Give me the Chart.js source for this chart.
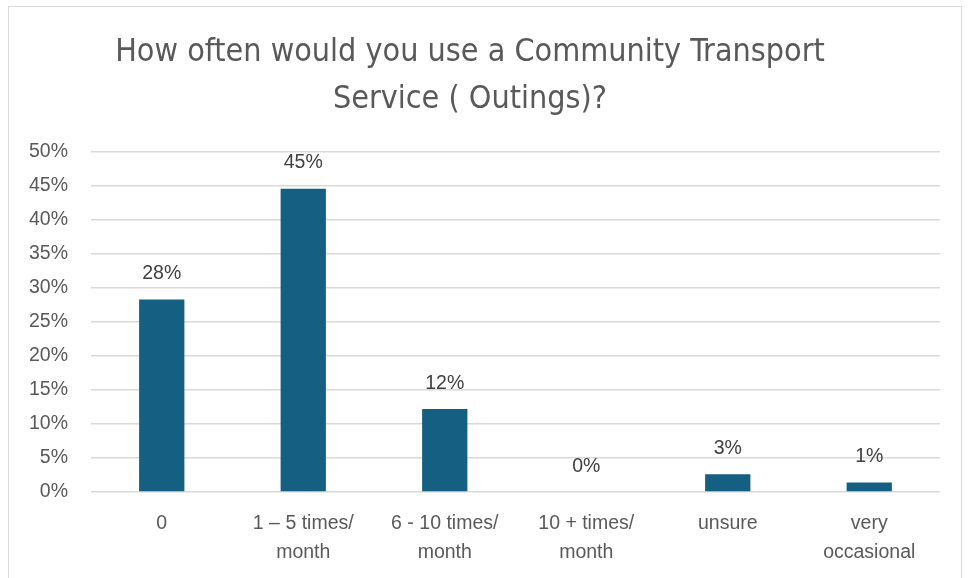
<!DOCTYPE html>
<html>
<head>
<meta charset="utf-8">
<script src="https://cdn.jsdelivr.net/npm/chart.js@4"></script>
<style>
    body { margin: 0; background: #ffffff; }
    #frame {
        position: absolute;
        left: 8px;
        top: 6px;
        width: 954px;
        height: 580px;
        border: 1.5px solid #d9d9d9;
        box-sizing: border-box;
    }
    #wrap { position: absolute; left: 0; top: 0; width: 973px; height: 578px; }
</style>
</head>
<body>
<div id="frame"></div>
<div id="wrap"><canvas id="freqChart" width="973" height="578"></canvas></div>
<script>
const categories = [
    '0',
    ['1 \u2013 5 times/', 'month'],
    ['6 - 10 times/', 'month'],
    ['10 + times/', 'month'],
    'unsure',
    ['very', 'occasional'],
];
const percentValues = [28.3, 44.6, 12.2, 0, 2.6, 1.4];
const valueLabels = ['28%', '45%', '12%', '0%', '3%', '1%'];
const yTicks = [0, 5, 10, 15, 20, 25, 30, 35, 40, 45, 50];

const bodyFont = "'Liberation Sans', Arial, sans-serif";
const titleFont = "'Liberation Sans Narrow', 'DejaVu Sans Condensed', sans-serif";

// value labels above each bar
const barLabels = {
    id: 'barLabels',
    afterDatasetsDraw(chart) {
        const ctx = chart.ctx;
        const meta = chart.getDatasetMeta(0);
        ctx.save();
        ctx.font = '19.5px ' + bodyFont;
        ctx.fillStyle = '#404040';
        ctx.textAlign = 'center';
        ctx.textBaseline = 'bottom';
        meta.data.forEach((bar, i) => {
            ctx.fillText(valueLabels[i], bar.x, bar.y - 16);
        });
        ctx.restore();
    },
};

new Chart(document.getElementById('freqChart'), {
    type: 'bar',
    data: {
        labels: categories,
        datasets: [
            {
                data: percentValues,
                backgroundColor: '#156082',
                borderWidth: 0,
                categoryPercentage: 1,
                barPercentage: 0.32,
            },
        ],
    },
    options: {
        responsive: false,
        animation: false,
        layout: { padding: { left: 0, right: 33, top: 0, bottom: 0 } },
        plugins: {
            legend: { display: false },
            tooltip: { enabled: false },
            title: {
                display: true,
                text: ['How often would you use a Community Transport', 'Service ( Outings)?'],
                color: '#595959',
                font: { family: titleFont, size: 32, weight: 'normal', lineHeight: 1.47 },
                padding: { top: 29, bottom: 29 },
            },
        },
        scales: {
            x: {
                grid: { display: false },
                border: { display: false },
                ticks: {
                    color: '#595959',
                    font: { family: bodyFont, size: 19.5, lineHeight: 1.5 },
                    padding: 9,
                    maxRotation: 0,
                    autoSkip: false,
                },
                afterFit(scale) { scale.height = 86; },
            },
            y: {
                min: 0,
                max: 50,
                afterBuildTicks(scale) {
                    scale.ticks = yTicks.map((v) => ({ value: v }));
                },
                grid: { color: '#d9d9d9', lineWidth: 1.5, drawTicks: false },
                border: { display: false },
                ticks: {
                    color: '#595959',
                    font: { family: bodyFont, size: 19.5 },
                    padding: 23,
                    callback: (v) => v + '%',
                },
                afterFit(scale) { scale.width = 91; },
            },
        },
    },
    plugins: [barLabels],
});
</script>
</body>
</html>
